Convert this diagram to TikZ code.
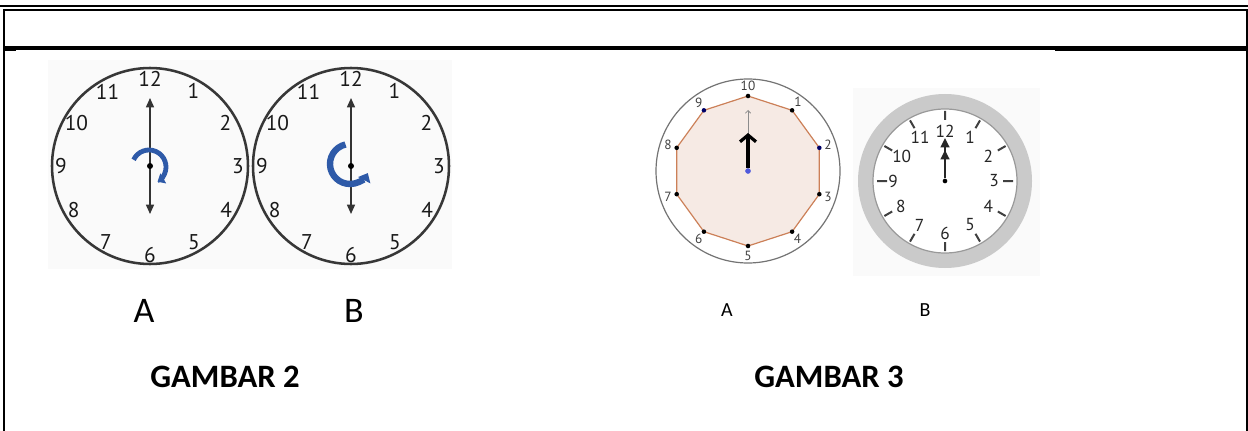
\documentclass[tikz,border=0pt]{standalone}
\usepackage{fontspec}
\setmainfont{Carlito}
\newfontfamily\dialfont{PT Sans}
\usetikzlibrary{arrows.meta}

\definecolor{rimgray}{RGB}{55,55,55}
\definecolor{turnblue}{RGB}{46,90,168}
\definecolor{decafill}{RGB}{246,234,228}
\definecolor{decaline}{RGB}{204,128,88}
\definecolor{ringgray}{RGB}{202,202,202}
\definecolor{imgbg}{RGB}{250,250,250}
\definecolor{pinblue}{RGB}{80,90,220}

\tikzset{
  frame/.style={line width=1.5pt},
  rim/.style={draw=rimgray, line width=1.9pt},
  dial/.style={font=\dialfont\fontsize{16}{16}\selectfont, inner sep=0pt, text=black!90},
  hand/.style={draw=black!80, line width=1.1pt,
    {Triangle[length=7pt,width=6pt]}-{Triangle[length=7pt,width=6pt]}},
  pivot/.style={circle, fill=black, inner sep=0pt, minimum size=4.5pt},
  turnarrow/.style={draw=turnblue, line width=3.6pt, -{Triangle[length=5pt,width=8.5pt]}},
  thinrim/.style={draw=black!55, line width=0.9pt},
  deca/.style={draw=decaline, fill=decafill, line width=0.9pt},
  vdot/.style={circle, fill=black, inner sep=0pt, minimum size=3.4pt},
  tinydial/.style={font=\dialfont\fontsize{10}{10}\selectfont, inner sep=0pt, text=black!75},
  ringdial/.style={font=\dialfont\fontsize{13}{13}\selectfont, inner sep=0pt, text=black!85},
  hourtick/.style={draw=black!75, line width=1.5pt},
  caption/.style={inner sep=0pt, font=\fontsize{27}{27}\selectfont},
  smallcaption/.style={inner sep=0pt, font=\fontsize{15}{15}\selectfont},
  heading/.style={inner sep=0pt, font=\bfseries\fontsize{24.5}{24.5}\selectfont}
}

\begin{document}
\begin{tikzpicture}[x=0.75pt, y=0.75pt]
  \useasboundingbox (0,0) rectangle (1248,-431);

  % table rules
  \draw[frame] (0,-6.5) -- (1248,-6.5);
  \draw[frame] (3,-10) -- (1248,-10);
  \draw[frame] (3.7,-10) -- (3.7,-431);
  \draw[frame] (1247,-10) -- (1247,-431);
  \draw[line width=2.4pt] (3,-48) -- (1247,-48);
  \draw[frame] (1055,-50) -- (1247,-50);
  \draw[frame] (3,-50.5) -- (16,-50.5);

  % picture backgrounds
  \fill[imgbg] (48,-60) rectangle (452,-269);
  \fill[imgbg] (853,-88) rectangle (1040,-276);

  % clock 2A
  \begin{scope}[shift={(150,-166)}]
    \draw[rim] (0,0) circle[radius=98];
    \draw[dial]
      (90:87) node (a12){12}
      (60:87) node (a1){1}
      (30:87) node (a2){2}
      (0:88) node (a3){3}
      (-30:88) node (a4){4}
      (-60:88) node (a5){5}
      (-90:89) node (a6){6}
      (-120:88) node (a7){7}
      (-150:88) node (a8){8}
      (180:89) node (a9){9}
      (150:85) node (a10){10}
      (120:85) node (a11){11};
    \coordinate (aTip) at (0,68);
    \coordinate (aTail) at (0,-48);
    \draw[hand] (aTail) -- (aTip);
    \node[pivot] (aPivot) at (0,0) {};
    \coordinate (aTurn) at (-16.4,6.2);
    \draw[turnarrow] (aTurn) arc[start angle=155, end angle=-60, radius=17];
  \end{scope}

  % clock 2B
  \begin{scope}[shift={(351,-166)}]
    \draw[rim] (0,0) circle[radius=98];
    \draw[dial]
      (90:87) node (b12){12}
      (60:87) node (b1){1}
      (30:87) node (b2){2}
      (0:88) node (b3){3}
      (-30:88) node (b4){4}
      (-60:88) node (b5){5}
      (-90:89) node (b6){6}
      (-120:88) node (b7){7}
      (-150:88) node (b8){8}
      (180:89) node (b9){9}
      (150:85) node (b10){10}
      (120:85) node (b11){11};
    \coordinate (bTip) at (0,68);
    \coordinate (bTail) at (0,-48);
    \draw[hand] (bTail) -- (bTip);
    \node[pivot] (bPivot) at (0,0) {};
    \coordinate (bTurn) at (-5.5,21.5);
    \draw[turnarrow, line width=4.8pt, -{Triangle[length=6pt,width=10pt]}]
      (bTurn) arc[start angle=103, end angle=333, radius=20];
  \end{scope}

  % clock 3A, ten hours
  \begin{scope}[shift={(748,-171)}]
    \draw[thinrim] (0,0) circle[radius=92];
    \draw
      (90:75) coordinate (v10)
      (54:75) coordinate (v1)
      (18:75) coordinate (v2)
      (-18:75) coordinate (v3)
      (-54:75) coordinate (v4)
      (-90:75) coordinate (v5)
      (-126:75) coordinate (v6)
      (-162:75) coordinate (v7)
      (162:75) coordinate (v8)
      (126:75) coordinate (v9);
    \draw[deca] (v10) -- (v1) -- (v2) -- (v3) -- (v4) -- (v5)
      -- (v6) -- (v7) -- (v8) -- (v9) -- cycle;
    \draw
      (v10) node[vdot] (p10){}
      (v1) node[vdot] (p1){}
      (v2) node[vdot, fill=black!60!blue] (p2){}
      (v3) node[vdot] (p3){}
      (v4) node[vdot] (p4){}
      (v5) node[vdot] (p5){}
      (v6) node[vdot] (p6){}
      (v7) node[vdot] (p7){}
      (v8) node[vdot] (p8){}
      (v9) node[vdot, fill=black!60!blue] (p9){};
    \draw[tinydial]
      (90:85) node (n10){10}
      (54:85) node (n1){1}
      (18:84) node (n2){2}
      (-18:84) node (n3){3}
      (-54:84) node (n4){4}
      (-90:85) node (n5){5}
      (-126:84) node (n6){6}
      (-162:84) node (n7){7}
      (162:84) node (n8){8}
      (126:84) node (n9){9};
    \coordinate (cLong) at (0,61);
    \coordinate (cShort) at (0,38);
    \node[vdot, fill=pinblue, minimum size=4pt] (cPivot) at (0,0) {};
    \draw[draw=black!45, line width=0.6pt, -{Straight Barb[length=2pt,width=4pt]}] (cPivot) -- (cLong);
    \draw[line width=2.4pt, -{Straight Barb[length=5pt,width=12pt]}] (cPivot) -- (cShort);
    \node[vdot, fill=pinblue, minimum size=4pt] (cDot) at (0,0) {};
  \end{scope}

  % clock 3B, grey ring
  \begin{scope}[shift={(945,-181)}]
    \fill[ringgray] (0,0) circle[radius=87];
    \draw[draw=black!40, fill=white, line width=0.9pt] (0,0) circle[radius=72];
    \draw[hourtick]
      (90:61) -- (90:70)
      (60:61) -- (60:70)
      (30:61) -- (30:70)
      (0:58) -- (0:68)
      (-30:61) -- (-30:70)
      (-60:61) -- (-60:70)
      (-90:61) -- (-90:70)
      (-120:61) -- (-120:70)
      (-150:61) -- (-150:70)
      (180:58) -- (180:68)
      (150:61) -- (150:70)
      (120:61) -- (120:70);
    \draw[ringdial]
      (90:50) node (r12){12}
      (60:50) node (r1){1}
      (30:50) node (r2){2}
      (0:49) node (r3){3}
      (-30:50) node (r4){4}
      (-60:50) node (r5){5}
      (-90:52) node (r6){6}
      (-120:51) node (r7){7}
      (-150:51) node (r8){8}
      (180:52) node (r9){9}
      (150:50) node (r10){10}
      (120:50) node (r11){11};
    \coordinate (rMinute) at (0,43);
    \coordinate (rHour) at (0,31);
    \node[pivot, minimum size=3.5pt] (rPivot) at (0,0) {};
    \draw[draw=black!85, line width=1.6pt, -{Triangle[length=7pt,width=6.5pt]}] (rPivot) -- (rMinute);
    \draw[draw=black!85, line width=1.6pt, -{Triangle[length=7pt,width=6.5pt]}] (rPivot) -- (rHour);
  \end{scope}

  % captions
  \node[caption] (capA2) at (144,-311) {A};
  \node[caption] (capB2) at (354,-311) {B};
  \node[smallcaption] (capA3) at (727,-310) {A};
  \node[smallcaption] (capB3) at (925,-310) {B};
  \node[heading] (head2) at (225,-377) {GAMBAR 2};
  \node[heading] (head3) at (829,-377) {GAMBAR 3};
\end{tikzpicture}
\end{document}
